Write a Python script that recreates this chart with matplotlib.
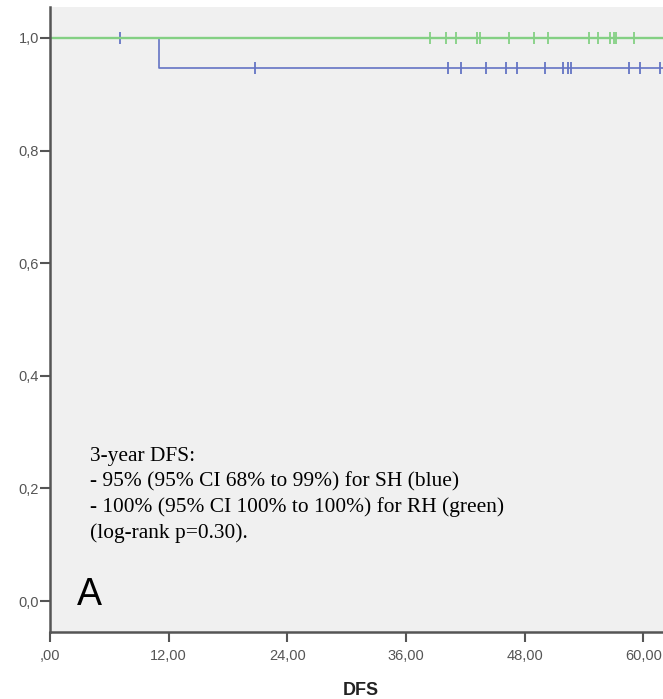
import matplotlib
matplotlib.use("Agg")
import matplotlib.pyplot as plt
import numpy as np

# Follow-up times (months) and status (1 = event, 0 = censored)
shTimes = [7.1, 11.0, 20.7, 40.3, 41.6, 44.1, 46.1, 47.2, 50.1, 51.9, 52.4, 52.7, 58.6, 59.7, 61.7, 64.0]
shEvents = [0, 1, 0, 0, 0, 0, 0, 0, 0, 0, 0, 0, 0, 0, 0, 0]
shAtRisk = 20                                            # patients at start for SH (blue)

rhTimes = [38.4, 40.1, 41.1, 43.2, 43.45, 46.4, 49.0, 50.4, 54.5, 55.4, 56.6, 57.0, 57.2, 59.1, 64.0]
rhEvents = [0] * len(rhTimes)
rhAtRisk = len(rhTimes)

xTicks = [0, 12, 24, 36, 48, 60]
xTickLabels = [",00", "12,00", "24,00", "36,00", "48,00", "60,00"]
yTicks = [0.0, 0.2, 0.4, 0.6, 0.8, 1.0]
yTickLabels = ["0,0", "0,2", "0,4", "0,6", "0,8", "1,0"]

noteLines = ["3-year DFS:",
             "- 95% (95% CI 68% to 99%) for SH (blue)",
             "- 100% (95% CI 100% to 100%) for RH (green)",
             "(log-rank p=0.30)."]


def kaplanMeier(times, events, nStart):
    """Returns step coordinates and censor points of a Kaplan-Meier curve."""
    order = np.argsort(times)
    t = np.array(times)[order]
    e = np.array(events)[order]
    surv = 1.0
    atRisk = nStart
    xs, ys = [0.0], [1.0]
    cx, cy = [], []
    for ti, ei in zip(t, e):
        if ei == 1:
            xs.append(ti); ys.append(surv)
            surv = surv * (1 - 1 / atRisk)
            xs.append(ti); ys.append(surv)
        else:
            cx.append(ti); cy.append(surv)
        atRisk -= 1
    xs.append(t[-1]); ys.append(surv)
    return xs, ys, cx, cy


fig = plt.figure(figsize=(6.63, 6.99), dpi=100)
ax = fig.add_axes([50 / 663, 1 - 632 / 699, 1 - 50 / 663, (632 - 7) / 699])
ax.set_facecolor("#f0f0f0")

blue = "#6474c4"
green = "#84d084"

bx, by, bcx, bcy = kaplanMeier(shTimes, shEvents, shAtRisk)
gx, gy, gcx, gcy = kaplanMeier(rhTimes, rhEvents, rhAtRisk)

ax.plot(bx, by, color=blue, lw=1.2)                              # SH curve
ax.plot(bcx, bcy, ls="none", marker="|", ms=9, mew=1.3, color=blue)
ax.plot(gx, gy, color=green, lw=1.7)                             # RH curve
ax.plot(gcx, gcy, ls="none", marker="|", ms=9, mew=1.3, color=green)

ax.set_xlim(0, 62.0)
ax.set_ylim(-0.055, 1.055)
ax.set_xticks(xTicks)
ax.set_xticklabels(xTickLabels)
ax.set_yticks(yTicks)
ax.set_yticklabels(yTickLabels)

for side in ["top", "right"]:
    ax.spines[side].set_visible(False)
for side in ["left", "bottom"]:
    ax.spines[side].set_color("#555555")
    ax.spines[side].set_linewidth(1.8)
ax.tick_params(axis="both", direction="out", length=7, width=1.5, color="#555555",
               labelcolor="#555555", labelsize=10.5)
ax.tick_params(axis="x", pad=5)
ax.tick_params(axis="y", pad=1)
for lbl in ax.get_xticklabels() + ax.get_yticklabels():
    lbl.set_family("Liberation Sans")

ax.text(90 / 663, 1 - 538 / 699, "\n".join(noteLines), transform=fig.transFigure,
        family="Liberation Serif", fontsize=15.4, color="black", va="baseline",
        linespacing=1.4)
ax.text(77 / 663, 1 - 605 / 699, "A", transform=fig.transFigure,
        family="Liberation Sans", fontsize=27, va="baseline")

fig.text(361 / 663, 1 - 695 / 699, "DFS", family="Liberation Sans", fontsize=13,
         fontweight="bold", color="#222222", ha="center", va="baseline")

fig.savefig("out.png", dpi=100)
